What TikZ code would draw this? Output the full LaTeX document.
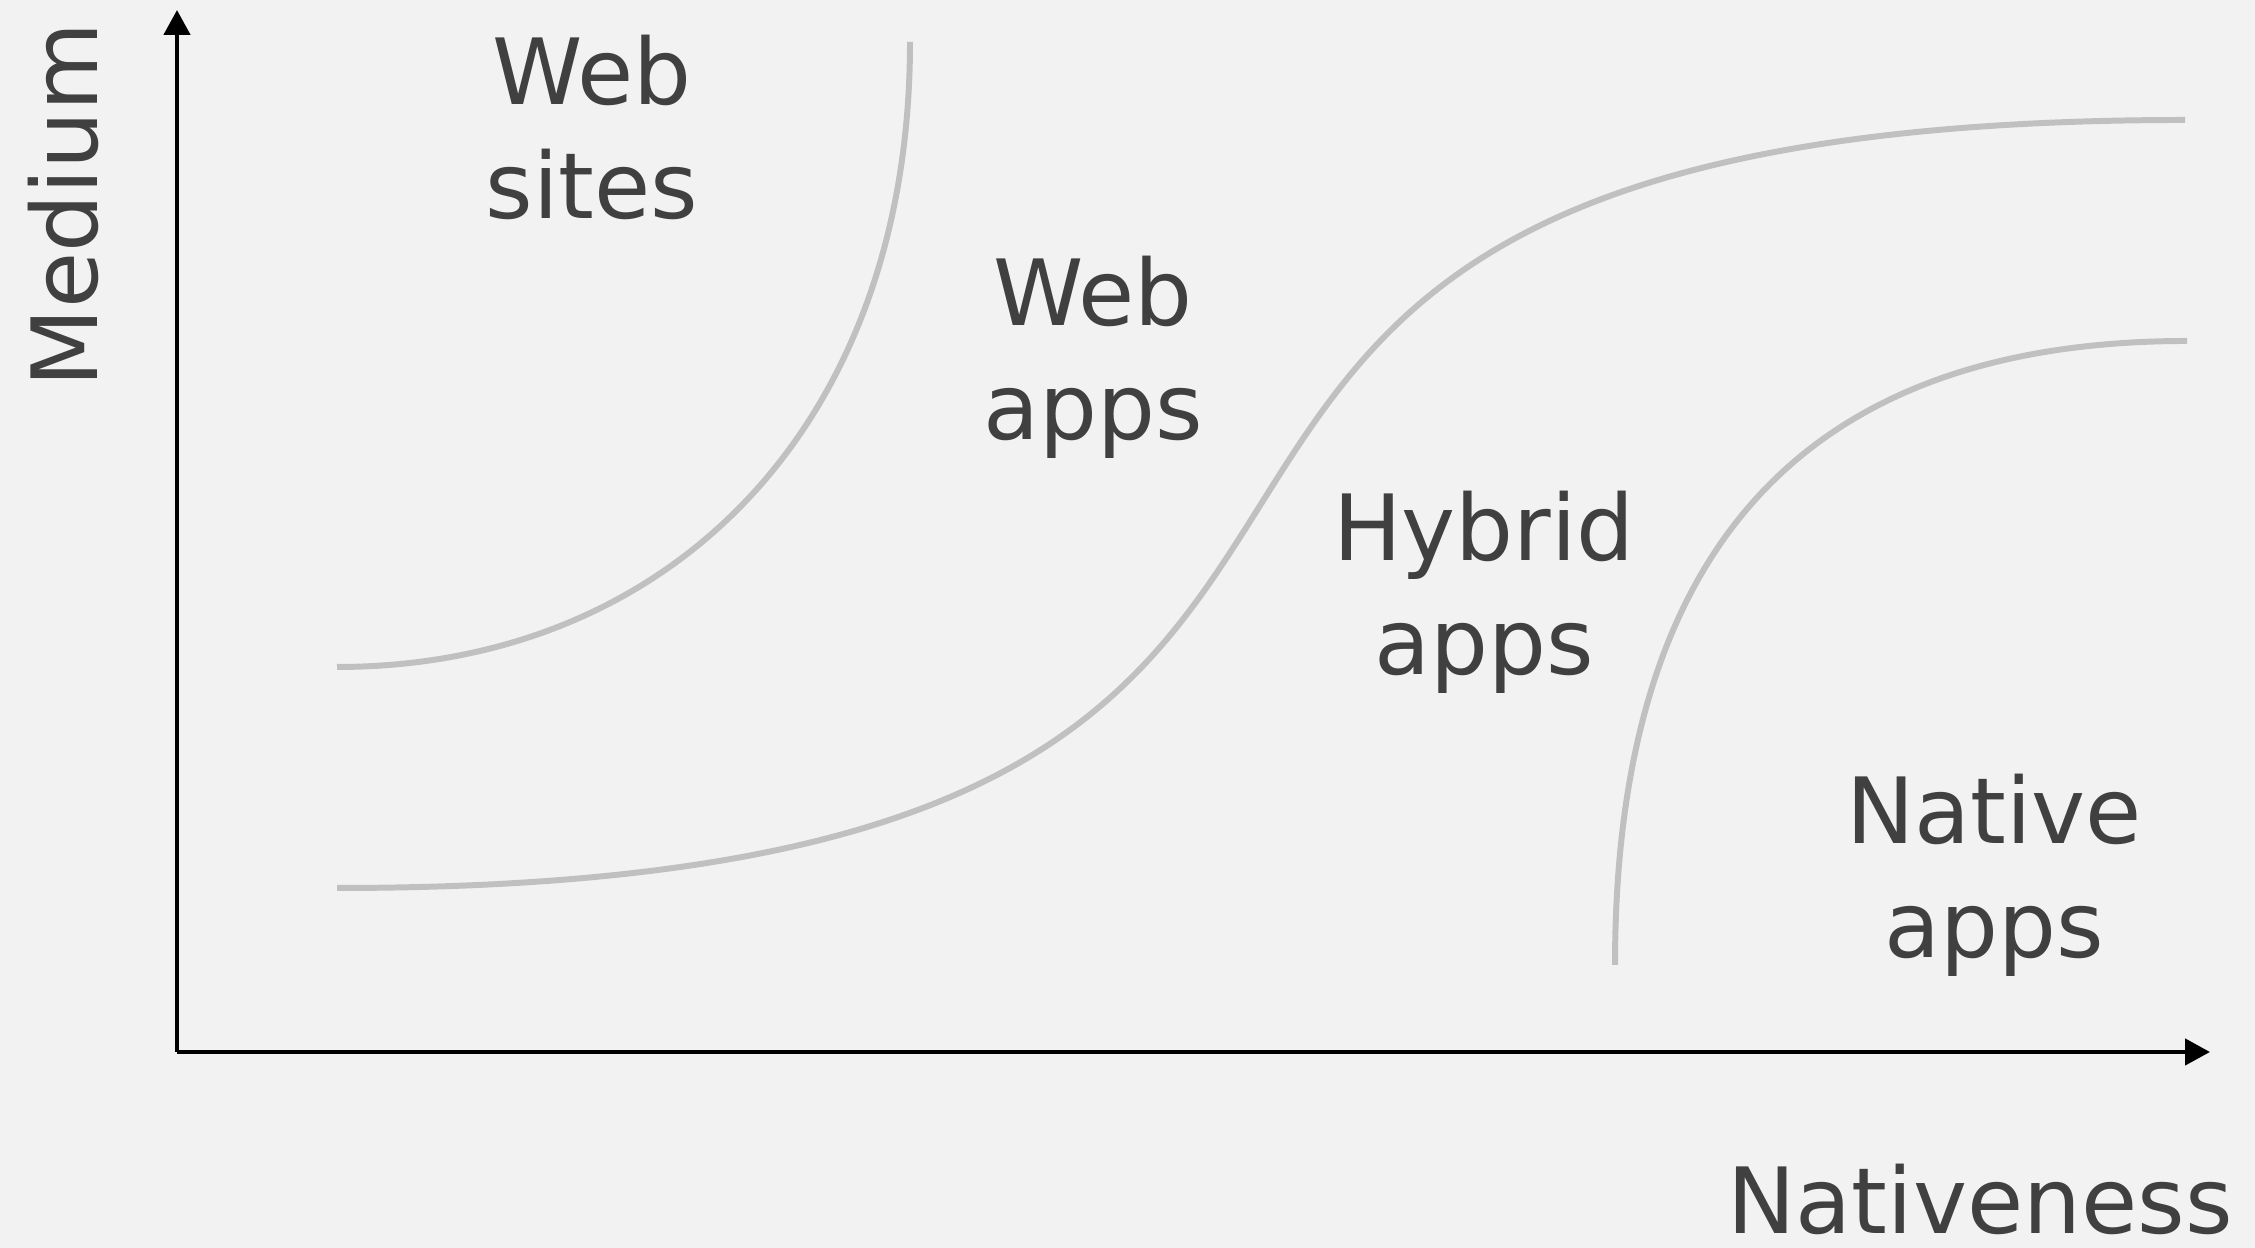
\documentclass[tikz,border=0pt]{standalone}
\usepackage{fontspec}
\setmainfont{DejaVu Sans}
\usetikzlibrary{arrows.meta}

\definecolor{paper}{HTML}{F2F2F2}
\definecolor{ink}{HTML}{404040}
\definecolor{edge}{HTML}{C0C0C0}

\begin{document}
\begin{tikzpicture}[>={Triangle[length=0.25cm,width=0.26cm]},
                    axis line/.style={draw=black,line width=1.3pt},
                    zone line/.style={draw=edge,line width=1.7pt},
                    zone label/.style={align=center,anchor=base,text=ink,
                      font=\fontsize{26pt}{32.5pt}\selectfont}]

  \useasboundingbox (0,0) rectangle (22.55,12.48);
  \fill[paper] (0,0) rectangle (22.55,12.48);

  % axes
  \coordinate (o) at (1.77,1.96);
  \coordinate (ytip) at (1.77,12.38);
  \coordinate (xtip) at (22.10,1.96);
  \draw[axis line,->] (o) -- (ytip);
  \draw[axis line,->] (o) -- (xtip);

  \node[zone label,rotate=90] (medium) at (0.97,10.43) {Medium};
  \node[zone label,inner sep=0pt] (nativeness) at (19.80,0.14) {Nativeness};

  % borders between the zones
  \draw[zone line] (3.37,5.81) .. controls (6.66,5.81) and (9.10,8.18) .. (9.10,12.06);
  \draw[zone line] (3.37,3.60) .. controls (17.03,3.60) and (8.19,11.28) .. (21.85,11.28);
  \draw[zone line] (16.15,2.83) .. controls (16.15,7.33) and (18.37,9.07) .. (21.87,9.07);

  % labels sit on the baseline of their last line
  \node[zone label] (sites) at (5.92,10.29) {Web\\sites};
  \node[zone label] (webapps) at (10.93,8.08) {Web\\apps};
  \node[zone label] (hybrid) at (14.84,5.73) {Hybrid\\apps};
  \node[zone label] (native) at (19.94,2.90) {Native\\apps};
\end{tikzpicture}
\end{document}
